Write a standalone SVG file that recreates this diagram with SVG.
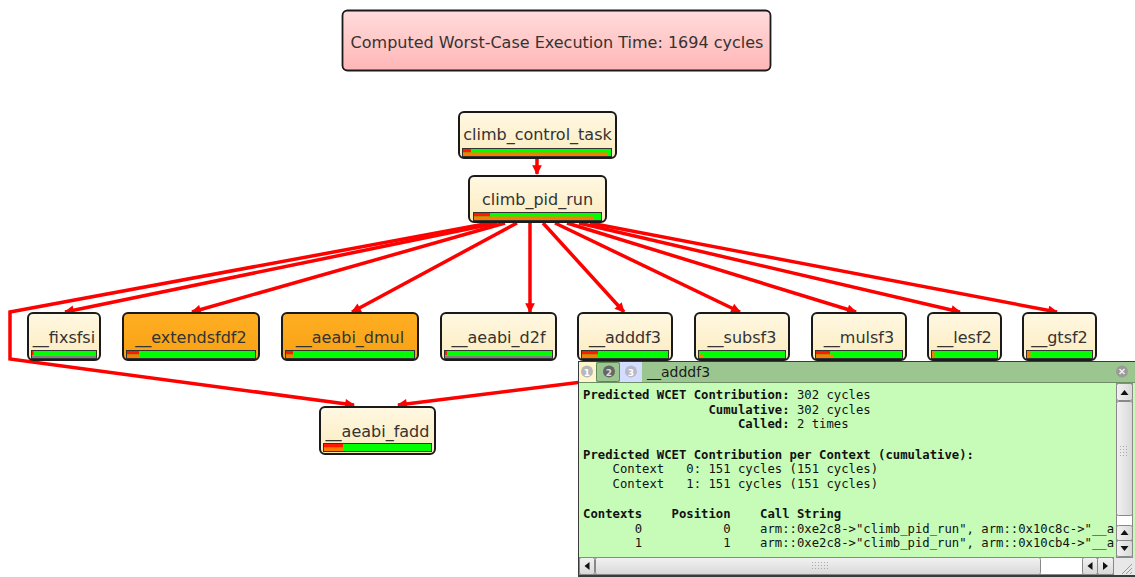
<svg xmlns="http://www.w3.org/2000/svg" width="1135" height="577" viewBox="0 0 1135 577">
<style>
.node{fill:url(#cream);stroke:#1a1a1a;stroke-width:2}
.onode{fill:url(#orange);stroke:#1a1a1a;stroke-width:2}
.lbl{font-family:"DejaVu Sans",sans-serif;font-size:16px;fill:#333;text-anchor:middle}
.bar{fill:#00ff00;stroke:#333;stroke-width:1}
.red{fill:#ff1a00}
.org{fill:#ff7a00}
.gry{fill:#808080}
.edge{fill:none;stroke:#ff0000;stroke-width:3.5;stroke-linejoin:miter}
.mono{font-family:"DejaVu Sans Mono",monospace;font-size:12.25px;fill:#111;white-space:pre}
.b{font-weight:bold}
.sb{fill:url(#sbg);stroke:#888;stroke-width:1}
</style>
<defs>
<linearGradient id="cream" x1="0" y1="0" x2="0" y2="1"><stop offset="0" stop-color="#fff8e2"/><stop offset="1" stop-color="#fbebbf"/></linearGradient>
<linearGradient id="orange" x1="0" y1="0" x2="0" y2="1"><stop offset="0" stop-color="#ffae22"/><stop offset="1" stop-color="#f8a114"/></linearGradient>
<linearGradient id="pink" x1="0" y1="0" x2="0" y2="1"><stop offset="0" stop-color="#ffdcdc"/><stop offset="1" stop-color="#ffb6b6"/></linearGradient>
<linearGradient id="sbg" x1="0" y1="0" x2="1" y2="0"><stop offset="0" stop-color="#f2f2f2"/><stop offset="1" stop-color="#d8d8d8"/></linearGradient>
<linearGradient id="sbgv" x1="0" y1="0" x2="0" y2="1"><stop offset="0" stop-color="#f2f2f2"/><stop offset="1" stop-color="#d8d8d8"/></linearGradient>
<marker id="arr" viewBox="0 0 10 10" refX="9" refY="5" markerWidth="3.2" markerHeight="2.8" orient="auto" markerUnits="strokeWidth">
<path d="M0,0 L10,5 L0,10 z" fill="#ff0000"/>
</marker>
<clipPath id="txtclip"><rect x="579" y="383" width="537" height="174"/></clipPath>
</defs>

<g id="title">
<rect x="342.5" y="10.5" width="428" height="60" rx="5" fill="url(#pink)" stroke="#1a1a1a" stroke-width="1.8"/>
<text class="lbl" x="557" y="48">Computed Worst-Case Execution Time: 1694 cycles</text>
</g>

<g id="connectors">
<path class="edge" marker-end="url(#arr)" d="M537,159 L537,174"/>
<path class="edge" marker-end="url(#arr)" d="M490,223 L10,312 L10,359 L354,405"/>
<path class="edge" marker-end="url(#arr)" d="M497,223 L65,312"/>
<path class="edge" marker-end="url(#arr)" d="M505,223 L192,312"/>
<path class="edge" marker-end="url(#arr)" d="M517,223 L352,312"/>
<path class="edge" marker-end="url(#arr)" d="M530,223 L530,312"/>
<path class="edge" marker-end="url(#arr)" d="M543,223 L624,312"/>
<path class="edge" marker-end="url(#arr)" d="M555,223 L740,312"/>
<path class="edge" marker-end="url(#arr)" d="M567,223 L856,312"/>
<path class="edge" marker-end="url(#arr)" d="M579,223 L960,312"/>
<path class="edge" marker-end="url(#arr)" d="M590,223 L1057,312"/>
<path class="edge" marker-end="url(#arr)" d="M742,362 L398,405"/>
</g>

<g id="n-climb_control_task">
<rect class="node" x="459" y="112" width="157" height="46" rx="5"/>
<text class="lbl" x="537.5" y="140">climb_control_task</text>
<rect class="bar" x="462.5" y="148.5" width="149" height="8"/>
<rect class="red" x="463" y="149" width="8" height="3.5"/>
<rect class="org" x="463" y="152.5" width="145" height="3.5"/>
</g>

<g id="n-climb_pid_run">
<rect class="node" x="469" y="176" width="137" height="46" rx="5"/>
<text class="lbl" x="537.5" y="205">climb_pid_run</text>
<rect class="bar" x="473.5" y="212.5" width="128" height="8"/>
<rect class="red" x="474" y="213" width="16" height="3.5"/>
<rect class="org" x="474" y="216.5" width="120" height="3.5"/>
</g>

<g id="n-fixsfsi">
<rect class="node" x="28" y="313" width="72" height="47" rx="5"/>
<text class="lbl" x="64" y="343">__fixsfsi</text>
<rect class="bar" x="31.5" y="350.5" width="65" height="8"/>
<rect class="red" x="32" y="351" width="1.5" height="4"/>
<rect class="gry" x="32" y="356" width="64" height="2"/>
</g>

<g id="n-extendsfdf2">
<rect class="onode" x="123" y="313" width="136" height="47" rx="5"/>
<text class="lbl" x="191" y="343">__extendsfdf2</text>
<rect class="bar" x="126.5" y="350.5" width="129" height="8"/>
<rect class="red" x="127" y="351" width="12" height="3.5"/>
<rect class="org" x="127" y="354.5" width="12" height="3.5"/>
</g>

<g id="n-aeabi_dmul">
<rect class="onode" x="282" y="313" width="136" height="47" rx="5"/>
<text class="lbl" x="350" y="343">__aeabi_dmul</text>
<rect class="bar" x="285.5" y="350.5" width="129" height="8"/>
<rect class="red" x="286" y="351" width="7" height="3.5"/>
<rect class="org" x="286" y="354.5" width="7" height="3.5"/>
</g>

<g id="n-aeabi_d2f">
<rect class="node" x="441" y="313" width="115" height="47" rx="5"/>
<text class="lbl" x="498.5" y="343">__aeabi_d2f</text>
<rect class="bar" x="444.5" y="350.5" width="108" height="8"/>
<rect class="red" x="445" y="351" width="2" height="4"/>
<rect class="gry" x="445" y="356" width="107" height="2"/>
</g>

<g id="n-adddf3">
<rect class="node" x="578" y="313" width="94" height="47" rx="5"/>
<text class="lbl" x="625" y="343">__adddf3</text>
<rect class="bar" x="581.5" y="350.5" width="87" height="8"/>
<rect class="red" x="582" y="351" width="16" height="3.5"/>
<rect class="org" x="582" y="354.5" width="16" height="3.5"/>
</g>

<g id="n-subsf3">
<rect class="node" x="695" y="313" width="94" height="47" rx="5"/>
<text class="lbl" x="742" y="343">__subsf3</text>
<rect class="bar" x="698.5" y="350.5" width="87" height="8"/>
<rect class="org" x="699" y="354.5" width="4" height="3.5"/>
</g>

<g id="n-mulsf3">
<rect class="node" x="812" y="313" width="94" height="47" rx="5"/>
<text class="lbl" x="859" y="343">__mulsf3</text>
<rect class="bar" x="815.5" y="350.5" width="87" height="8"/>
<rect class="red" x="816" y="351" width="14" height="3.5"/>
<rect class="org" x="816" y="354.5" width="18" height="3.5"/>
</g>

<g id="n-lesf2">
<rect class="node" x="928" y="313" width="73" height="47" rx="5"/>
<text class="lbl" x="964.5" y="343">__lesf2</text>
<rect class="bar" x="931.5" y="350.5" width="66" height="8"/>
<rect class="org" x="932" y="352" width="2.5" height="6"/>
</g>

<g id="n-gtsf2">
<rect class="node" x="1023" y="313" width="73" height="47" rx="5"/>
<text class="lbl" x="1059.5" y="343">__gtsf2</text>
<rect class="bar" x="1026.5" y="350.5" width="66" height="8"/>
<rect class="org" x="1027" y="352" width="3.5" height="6"/>
</g>

<g id="n-aeabi_fadd">
<rect class="node" x="320" y="407" width="115" height="47" rx="5"/>
<text class="lbl" x="377.5" y="437">__aeabi_fadd</text>
<rect class="bar" x="323.5" y="443.5" width="108" height="8"/>
<rect class="red" x="324" y="444" width="19" height="3.5"/>
<rect class="org" x="324" y="447.5" width="19" height="3.5"/>
</g>

<g id="panel">
<rect x="578.5" y="361.5" width="557" height="215" fill="#c6fcb8" stroke="#3a3a3a" stroke-width="1"/>
<rect x="579" y="362" width="556" height="20" fill="#9cc690"/>
<line x1="579" y1="382.5" x2="1135" y2="382.5" stroke="#6e8f66" stroke-width="1"/>
<rect x="579" y="362" width="17" height="20" fill="#fff5cc"/>
<rect x="596.5" y="362.5" width="23" height="19" fill="#9cc690" stroke="#5f8a55" stroke-width="1" rx="2"/>
<rect x="620" y="362" width="22" height="20" fill="#d3ddff"/>
<circle cx="587" cy="371.5" r="6" fill="#b8b8b8"/>
<text x="587" y="375.5" font-family="DejaVu Sans,sans-serif" font-size="9" font-weight="bold" fill="#fff" text-anchor="middle">1</text>
<circle cx="609" cy="371.5" r="6" fill="#666"/>
<text x="609" y="375.5" font-family="DejaVu Sans,sans-serif" font-size="9" font-weight="bold" fill="#ddd" text-anchor="middle">2</text>
<circle cx="631" cy="371.5" r="6" fill="#b8b8c8"/>
<text x="631" y="375.5" font-family="DejaVu Sans,sans-serif" font-size="9" font-weight="bold" fill="#fff" text-anchor="middle">3</text>
<text x="647" y="377" font-family="DejaVu Sans,sans-serif" font-size="14" fill="#1a1a1a">__adddf3</text>
<circle cx="1122" cy="371.5" r="6" fill="#9a9a9a"/>
<path d="M1119.5,369 L1124.5,374 M1124.5,369 L1119.5,374" stroke="#eee" stroke-width="1.6"/>

<g clip-path="url(#txtclip)" class="mono">
<text class="mono" x="583" y="399" xml:space="preserve"><tspan class="b">Predicted WCET Contribution:</tspan> 302 cycles</text>
<text class="mono" x="583" y="414" xml:space="preserve">                 <tspan class="b">Cumulative:</tspan> 302 cycles</text>
<text class="mono" x="583" y="428" xml:space="preserve">                     <tspan class="b">Called:</tspan> 2 times</text>
<text class="mono" x="583" y="459" xml:space="preserve"><tspan class="b">Predicted WCET Contribution per Context (cumulative):</tspan></text>
<text class="mono" x="583" y="473" xml:space="preserve">    Context   0: 151 cycles (151 cycles)</text>
<text class="mono" x="583" y="488" xml:space="preserve">    Context   1: 151 cycles (151 cycles)</text>
<text class="mono" x="583" y="518" xml:space="preserve"><tspan class="b">Contexts    Position    Call String</tspan></text>
<text class="mono" x="583" y="533" xml:space="preserve">       0           0    arm::0xe2c8-&gt;"climb_pid_run", arm::0x10c8c-&gt;"__a</text>
<text class="mono" x="583" y="547" xml:space="preserve">       1           1    arm::0xe2c8-&gt;"climb_pid_run", arm::0x10cb4-&gt;"__a</text>
</g>

<!-- vertical scrollbar -->
<rect x="1116.5" y="383.5" width="16" height="174" fill="#ffffff" stroke="#888" stroke-width="1"/>
<rect class="sb" x="1116.5" y="383.5" width="16" height="17" rx="2"/>
<path d="M1120.5,395 L1124.5,390 L1128.5,395 z" fill="#111"/>
<rect class="sb" x="1116.5" y="401.5" width="16" height="114" rx="2"/>
<g fill="#aaa">
<rect x="1120" y="446" width="1" height="1"/><rect x="1123" y="446" width="1" height="1"/><rect x="1126" y="446" width="1" height="1"/>
<rect x="1120" y="449" width="1" height="1"/><rect x="1123" y="449" width="1" height="1"/><rect x="1126" y="449" width="1" height="1"/>
<rect x="1120" y="452" width="1" height="1"/><rect x="1123" y="452" width="1" height="1"/><rect x="1126" y="452" width="1" height="1"/>
<rect x="1120" y="455" width="1" height="1"/><rect x="1123" y="455" width="1" height="1"/><rect x="1126" y="455" width="1" height="1"/>
</g>
<rect class="sb" x="1116.5" y="525.5" width="16" height="15" rx="2"/>
<path d="M1120.5,535 L1124.5,530 L1128.5,535 z" fill="#111"/>
<rect class="sb" x="1116.5" y="540.5" width="16" height="16" rx="2"/>
<path d="M1120.5,546 L1124.5,551 L1128.5,546 z" fill="#111"/>

<!-- horizontal scrollbar -->
<rect x="579.5" y="557.5" width="534" height="17" fill="#ffffff" stroke="#888" stroke-width="1"/>
<rect x="579.5" y="557.5" width="15" height="17" rx="2" fill="url(#sbgv)" stroke="#888"/>
<path d="M589.5,562 L584.5,566 L589.5,570 z" fill="#111"/>
<rect x="595.5" y="557.5" width="445" height="17" rx="2" fill="url(#sbgv)" stroke="#888"/>
<g fill="#aaa">
<rect x="812" y="562" width="1" height="1"/><rect x="815" y="562" width="1" height="1"/><rect x="818" y="562" width="1" height="1"/><rect x="821" y="562" width="1" height="1"/><rect x="824" y="562" width="1" height="1"/><rect x="827" y="562" width="1" height="1"/>
<rect x="812" y="565" width="1" height="1"/><rect x="815" y="565" width="1" height="1"/><rect x="818" y="565" width="1" height="1"/><rect x="821" y="565" width="1" height="1"/><rect x="824" y="565" width="1" height="1"/><rect x="827" y="565" width="1" height="1"/>
<rect x="812" y="568" width="1" height="1"/><rect x="815" y="568" width="1" height="1"/><rect x="818" y="568" width="1" height="1"/><rect x="821" y="568" width="1" height="1"/><rect x="824" y="568" width="1" height="1"/><rect x="827" y="568" width="1" height="1"/>
</g>
<rect x="1082.5" y="557.5" width="15" height="17" rx="2" fill="url(#sbgv)" stroke="#888"/>
<path d="M1092.5,562 L1087.5,566 L1092.5,570 z" fill="#111"/>
<rect x="1097.5" y="557.5" width="16" height="17" rx="2" fill="url(#sbgv)" stroke="#888"/>
<path d="M1103,562 L1108,566 L1103,570 z" fill="#111"/>
<rect x="1114" y="558" width="21" height="18" fill="#e8e8e8"/>
<path d="M1122,574 L1132,564 M1126,574 L1132,568 M1130,574 L1132,572" stroke="#999" stroke-width="1"/>
<line x1="578" y1="575.5" x2="1135" y2="575.5" stroke="#3a3a3a" stroke-width="1"/>
</g>
</svg>
